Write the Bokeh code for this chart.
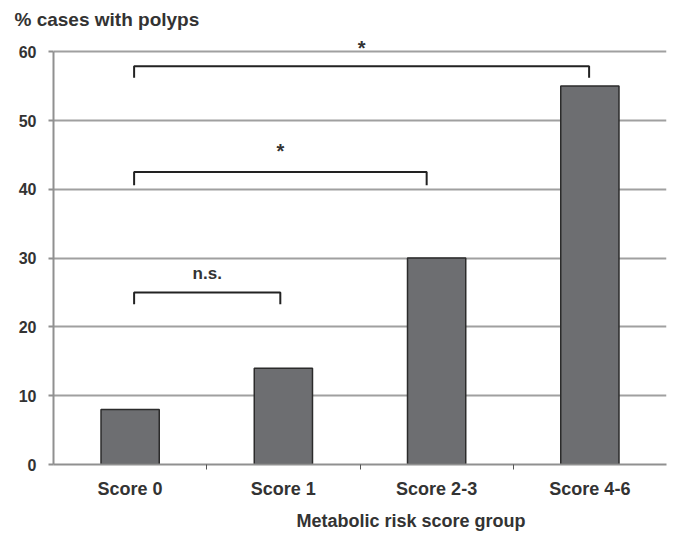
from bokeh.plotting import figure
from bokeh.models import FixedTicker, Range1d, Title, Label
from bokeh.embed import file_html
from bokeh.resources import INLINE

categories = ["Score 0", "Score 1", "Score 2-3", "Score 4-6"]
values = [8, 14, 30, 55]
y_ticks = [0, 10, 20, 30, 40, 50, 60]

# comparison brackets: from / to category index, bracket height, drop, label
br_from = [0, 0, 0]
br_to = [1, 2, 3]
br_top = [25, 42.5, 57.9]
br_drop = [1.7, 1.9, 1.7]
br_label = ["n.s.", "*", "*"]
br_label_y = [27.7, 45.5, 60.5]
br_end_shift = [-0.02, -0.065, -0.005]

FONT = "Liberation Sans"
TXT = "#333333"

p = figure(width=670, height=537, output_backend="svg", toolbar_location=None,
           x_range=Range1d(0, len(categories)), y_range=Range1d(0, 62.5),
           min_border_left=53, min_border_right=4, min_border_top=34, min_border_bottom=10)

xs = [i + 0.5 for i in range(len(categories))]
p.vbar(x=xs, top=values, width=0.38, bottom=0, fill_color="#6d6e71",
       line_color="#2b2b2b", line_width=1.5)

# brackets and their labels
for f, t, top, d, lab, ly, sh in zip(br_from, br_to, br_top, br_drop, br_label,
                                      br_label_y, br_end_shift):
    x0 = f + 0.5 + 0.026
    x1 = t + 0.5 + sh
    p.line(x=[x0, x0, x1, x1], y=[top - d, top, top, top - d],
           line_color="#222222", line_width=2)
    is_star = lab == "*"
    p.add_layout(Label(x=(x0 + x1) / 2, y=ly, text=lab,
                       text_align="center", text_baseline="alphabetic",
                       text_font=FONT, text_font_style="bold",
                       text_font_size="20px" if is_star else "17px", text_color=TXT))

p.xgrid.grid_line_color = None
p.ygrid.grid_line_color = "#a0a0a0"
p.ygrid.grid_line_width = 2
p.ygrid.ticker = FixedTicker(ticks=y_ticks)
p.outline_line_color = None

p.yaxis.ticker = FixedTicker(ticks=y_ticks)
p.yaxis.bounds = (0, 60)
p.yaxis.axis_line_color = "#909090"
p.yaxis.axis_line_width = 2
p.yaxis.major_tick_line_color = "#909090"
p.yaxis.major_tick_line_width = 2
p.yaxis.major_tick_out = 5
p.yaxis.major_tick_in = 0
p.yaxis.minor_tick_line_color = None
p.yaxis.major_label_standoff = 12
p.yaxis.major_label_text_font = FONT
p.yaxis.major_label_text_font_style = "bold"
p.yaxis.major_label_text_font_size = "16px"
p.yaxis.major_label_text_color = TXT

p.xaxis.ticker = FixedTicker(ticks=xs, minor_ticks=[1, 2, 3])
p.xaxis.major_label_overrides = {x: c for x, c in zip(xs, categories)}
p.xaxis.axis_line_color = "#909090"
p.xaxis.axis_line_width = 2
p.xaxis.major_tick_line_color = None
p.xaxis.minor_tick_line_color = "#555555"
p.xaxis.minor_tick_out = 5
p.xaxis.minor_tick_in = 0
p.xaxis.major_label_standoff = 8
p.xaxis.major_label_text_font = FONT
p.xaxis.major_label_text_font_style = "bold"
p.xaxis.major_label_text_font_size = "18px"
p.xaxis.major_label_text_color = TXT

p.title.text = "% cases with polyps"
p.title.align = "left"
p.title.offset = -39
p.title.standoff = 10
p.title.text_font = FONT
p.title.text_font_style = "bold"
p.title.text_font_size = "19px"
p.title.text_color = TXT

xl = Title(text="Metabolic risk score group", align="left", offset=243,
           text_font=FONT, text_font_style="bold", text_font_size="18px",
           text_color=TXT, standoff=14)
p.add_layout(xl, "below")

open("out.html", "w").write(file_html(p, INLINE))
